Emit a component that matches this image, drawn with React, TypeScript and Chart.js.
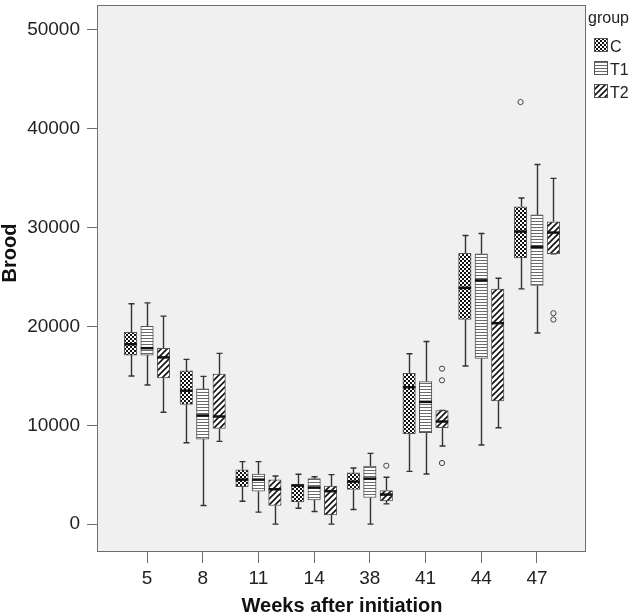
import React, { useEffect, useRef } from 'react';
import { Chart, registerables } from 'chart.js';

Chart.register(...registerables);

const FONT = '"Liberation Sans", Arial, sans-serif';

const weeks = ['5', '8', '11', '14', '38', '41', '44', '47'];
const groups = ['C', 'T1', 'T2'];
const yTicks = [0, 10000, 20000, 30000, 40000, 50000];

// [min, q1, median, q3, max] per week
const statsC = [
  [14990, 17100, 18200, 19400, 22300],
  [8230, 12100, 13500, 15500, 16670],
  [2320, 3800, 4500, 5500, 6320],
  [1610, 2250, 3900, 4030, 5040],
  [1480, 3500, 4300, 5180, 5680],
  [5340, 9140, 13850, 15250, 17240],
  [16000, 20700, 23900, 27400, 29200],
  [23800, 26930, 29600, 32100, 33000],
];
const statsT1 = [
  [14080, 17100, 17800, 20000, 22380],
  [1880, 8600, 10990, 13680, 14950],
  [1210, 3330, 4500, 5070, 6320],
  [1280, 2450, 3700, 4600, 4800],
  [0, 2690, 4600, 5880, 7160],
  [5070, 9240, 12370, 14420, 18480],
  [8000, 16770, 24660, 27350, 29400],
  [19340, 24140, 28040, 31300, 36390],
];
const statsT2 = [
  [11320, 14790, 16870, 17780, 21040],
  [8370, 9680, 10890, 15190, 17270],
  [0, 1880, 3530, 4470, 4870],
  [0, 940, 3330, 3860, 5010],
  [2050, 2350, 2990, 3390, 4740],
  [7900, 9750, 10380, 11490, 11490],
  [9750, 12470, 20330, 23790, 24870],
  [27350, 27350, 29500, 30580, 34980],
];
// [week index, value]
const outliersC = [[7, 42700]];
const outliersT1: number[][] = [];
const outliersT2 = [[4, 5910], [5, 15730], [5, 14550], [5, 6180], [7, 21340], [7, 20700]];

const allStats = [statsC, statsT1, statsT2];
const allOutliers = [outliersC, outliersT1, outliersT2];
const offsets = [-0.295, 0, 0.295];

function tile(w: number, h: number, draw: (c: CanvasRenderingContext2D) => void) {
  const c = document.createElement('canvas');
  c.width = w;
  c.height = h;
  const ctx = c.getContext('2d')!;
  ctx.fillStyle = '#ffffff';
  ctx.fillRect(0, 0, w, h);
  draw(ctx);
  const tmp = document.createElement('canvas').getContext('2d')!;
  return tmp.createPattern(c, 'repeat')!;
}

function makePatterns() {
  const checker = tile(4, 4, (c) => {
    c.fillStyle = '#111';
    c.fillRect(0, 0, 2, 2);
    c.fillRect(2, 2, 2, 2);
  });
  const hlines = tile(4, 3, (c) => {
    c.fillStyle = '#6a6a6a';
    c.fillRect(0, 2, 4, 1);
  });
  const diag = tile(6, 6, (c) => {
    c.strokeStyle = '#111';
    c.lineWidth = 1.6;
    c.beginPath();
    c.moveTo(-1, 7); c.lineTo(7, -1);
    c.moveTo(-4, 4); c.lineTo(4, -4);
    c.moveTo(2, 10); c.lineTo(10, 2);
    c.stroke();
  });
  return [checker, hlines, diag];
}

export default function App() {
  const ref = useRef<HTMLCanvasElement>(null);
  useEffect(() => {
    document.body.style.margin = '0';
    const canvas = ref.current!;
    const pats = makePatterns();

    const extras = {
      id: 'extras',
      beforeDraw(chart: any) {
        const { ctx, chartArea: a } = chart;
        ctx.save();
        ctx.fillStyle = '#f0f0f0';
        ctx.fillRect(a.left, a.top, a.right - a.left, a.bottom - a.top);
        ctx.restore();
      },
      beforeDatasetsDraw(chart: any) {
        const { ctx } = chart;
        const xs = chart.scales.x, ys = chart.scales.y;
        ctx.save();
        ctx.strokeStyle = '#333';
        ctx.lineWidth = 1.4;
        allStats.forEach((stats, g) => {
          stats.forEach((s, i) => {
            const cx = Math.round(xs.getPixelForValue(i + offsets[g])) + 0.5;
            const [mn, q1, , q3, mx] = s;
            const pMn = ys.getPixelForValue(mn), pQ1 = ys.getPixelForValue(q1);
            const pQ3 = ys.getPixelForValue(q3), pMx = ys.getPixelForValue(mx);
            ctx.beginPath();
            ctx.moveTo(cx, pMn); ctx.lineTo(cx, pQ1);
            ctx.moveTo(cx, pQ3); ctx.lineTo(cx, pMx);
            ctx.moveTo(cx - 3, pMn); ctx.lineTo(cx + 3, pMn);
            ctx.moveTo(cx - 3, pMx); ctx.lineTo(cx + 3, pMx);
            ctx.stroke();
          });
        });
        ctx.restore();
      },
      afterDatasetsDraw(chart: any) {
        const { ctx, chartArea: a } = chart;
        const xs = chart.scales.x, ys = chart.scales.y;
        ctx.save();
        ctx.strokeStyle = '#111';
        ctx.lineWidth = 2.5;
        allStats.forEach((stats, g) => {
          const meta = chart.getDatasetMeta(g);
          stats.forEach((s, i) => {
            const el = meta.data[i];
            const w = el ? el.width : 12;
            const cx = xs.getPixelForValue(i + offsets[g]);
            const py = ys.getPixelForValue(s[2]);
            ctx.beginPath();
            ctx.moveTo(cx - w / 2, py);
            ctx.lineTo(cx + w / 2, py);
            ctx.stroke();
          });
        });
        ctx.strokeStyle = '#6e6e6e';
        ctx.lineWidth = 1;
        ctx.strokeRect(Math.round(a.left) - 0.5, Math.round(a.top) + 0.5, a.right - a.left, a.bottom - a.top - 1);
        ctx.restore();
      },
      afterDraw(chart: any) {
        const { ctx, chartArea: a } = chart;
        ctx.save();
        // axis titles
        ctx.fillStyle = '#111';
        ctx.font = `bold 20px ${FONT}`;
        ctx.textAlign = 'center';
        ctx.textBaseline = 'alphabetic';
        ctx.fillText('Weeks after initiation', (a.left + a.right) / 2, 612);
        ctx.translate(16, 253);
        ctx.rotate(-Math.PI / 2);
        ctx.fillText('Brood', 0, 0);
        ctx.restore();
        // legend
        ctx.save();
        ctx.font = `16px ${FONT}`;
        ctx.fillStyle = '#222';
        ctx.textAlign = 'left';
        ctx.textBaseline = 'alphabetic';
        ctx.fillText('group', 588, 23);
        groups.forEach((g, i) => {
          const y0 = 38 + i * 23;
          ctx.fillStyle = pats[i];
          ctx.fillRect(594, y0, 14, 14);
          ctx.strokeStyle = '#555';
          ctx.lineWidth = 1;
          ctx.strokeRect(594.5, y0 + 0.5, 13, 13);
          ctx.fillStyle = '#222';
          ctx.fillText(g, 610, y0 + 14);
        });
        ctx.restore();
      },
    };

    const barSets: any[] = groups.map((g, gi) => ({
      type: 'bar',
      label: g,
      data: allStats[gi].map((s, i) => ({ x: i + offsets[gi], y: [s[1], s[3]] })),
      backgroundColor: pats[gi],
      borderColor: '#555',
      borderWidth: 1,
      borderSkipped: false,
      grouped: false,
      maxBarThickness: 12.5,
      categoryPercentage: 1,
      barPercentage: 1,
    }));
    const outlierSet: any = {
      type: 'scatter',
      label: 'outliers',
      data: allOutliers.flatMap((list, gi) => list.map(([wi, v]) => ({ x: wi + offsets[gi], y: v }))),
      pointRadius: 2.6,
      pointBackgroundColor: 'rgba(0,0,0,0)',
      pointBorderColor: '#444',
      pointBorderWidth: 1,
    };

    const tickFont = { family: FONT, size: 19 };
    const chart = new Chart(canvas, {
      type: 'bar',
      data: { datasets: [...barSets, outlierSet] },
      options: {
        animation: false,
        responsive: false,
        layout: { padding: { top: 3, right: 54, left: 0, bottom: 0 } },
        plugins: { legend: { display: false }, tooltip: { enabled: false } },
        scales: {
          x: {
            type: 'linear',
            min: -0.88,
            max: 7.88,
            offset: false,
            afterFit: (s: any) => { s.height = 62; s.paddingLeft = 0; s.paddingRight = 0; },
            afterBuildTicks: (s: any) => { s.ticks = weeks.map((_, i) => ({ value: i })); },
            ticks: {
              callback: (v: any) => weeks[v],
              font: tickFont,
              color: '#222',
              padding: 4,
              autoSkip: false,
              maxRotation: 0,
            },
            grid: { drawOnChartArea: false, drawTicks: true, tickLength: 11, color: '#6e6e6e', offset: false },
            border: { display: false },
          },
          y: {
            type: 'linear',
            min: -2820,
            max: 52520,
            afterFit: (s: any) => { s.width = 98; s.paddingTop = 0; s.paddingBottom = 0; },
            afterBuildTicks: (s: any) => { s.ticks = yTicks.map((v) => ({ value: v })); },
            ticks: { callback: (v: any) => String(v), font: tickFont, color: '#222', padding: 7 },
            grid: { drawOnChartArea: false, drawTicks: true, tickLength: 11, color: '#6e6e6e' },
            border: { display: false },
          },
        },
      } as any,
      plugins: [extras],
    });
    return () => chart.destroy();
  }, []);

  return (
    <div style={{ width: 640, height: 614 }}>
      <canvas ref={ref} width={640} height={614} style={{ display: 'block', width: 640, height: 614 }} />
    </div>
  );
}
